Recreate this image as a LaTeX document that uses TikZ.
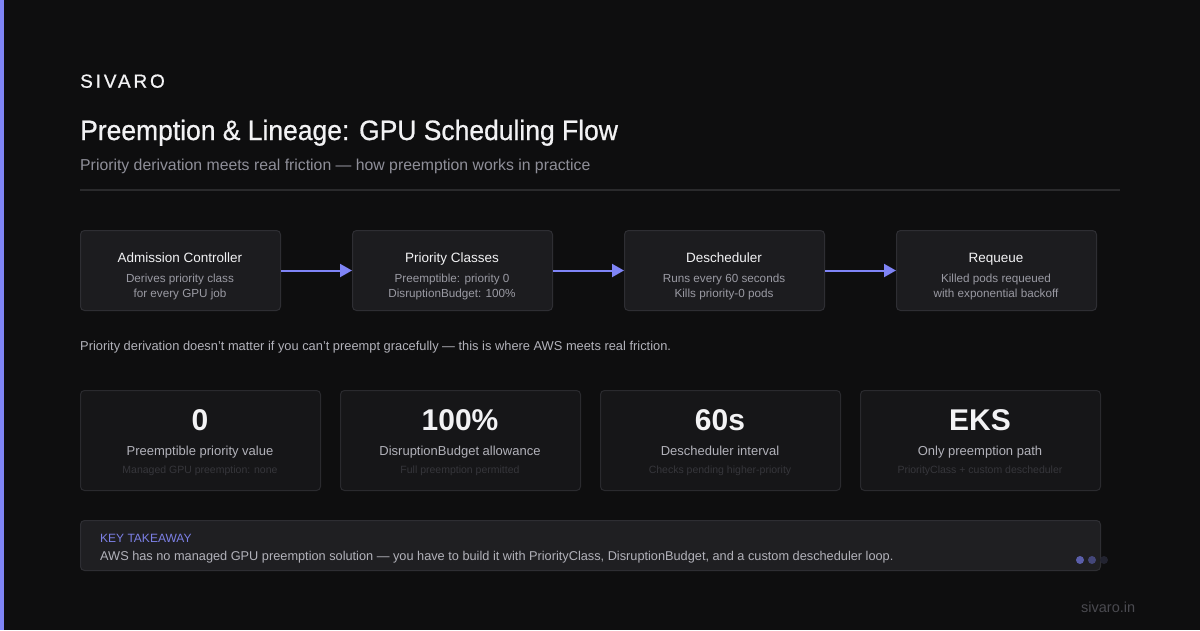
\documentclass[tikz,border=0pt]{standalone}
\usepackage{fontspec}
\setmainfont{Liberation Sans}
\newfontfamily\spaced[LetterSpace=15,FakeBold=0.8]{Liberation Sans}
\newfontfamily\medium[FakeBold=0.8]{Liberation Sans}
\usetikzlibrary{arrows.meta,calc}
\definecolor{bg}{HTML}{0E0E0F}
\definecolor{accent}{HTML}{7F84F6}
\definecolor{boxfill}{HTML}{1C1C1F}
\definecolor{boxline}{HTML}{2E2E33}
\definecolor{cardfill}{HTML}{161618}
\definecolor{cardline}{HTML}{2A2A2E}
\definecolor{takefill}{HTML}{1F1F22}
\definecolor{txtwhite}{HTML}{F2F2F4}
\definecolor{txtgray}{HTML}{9A9AA3}
\definecolor{subcol}{HTML}{8F8F99}
\definecolor{txtlight}{HTML}{B2B2BA}
\definecolor{txtdim}{HTML}{36363B}
\definecolor{divider}{HTML}{2A2A2C}
\definecolor{keycol}{HTML}{7C80E6}
\definecolor{dotA}{HTML}{5A5EAA}
\definecolor{dotB}{HTML}{44477A}
\definecolor{dotC}{HTML}{222330}
\definecolor{footcol}{HTML}{4A4A50}
\newcommand{\fs}[1]{\fontsize{#1}{#1}\selectfont}
\tikzset{
  txt/.style={inner sep=0pt, anchor=base},
  txtw/.style={inner sep=0pt, anchor=base west},
  flowbox/.style={draw=boxline, fill=boxfill, rounded corners=4pt, line width=1pt},
  statcard/.style={draw=cardline, fill=cardfill, rounded corners=4pt, line width=1pt},
  flowarrow/.style={draw=accent, line width=2pt, -{Triangle[length=12pt,width=13pt]}},
}
\begin{document}
\begin{tikzpicture}[x=1pt,y=-1pt]
\fill[bg] (0,0) rectangle (1200,630);
\useasboundingbox (0,0) rectangle (1200,630);
\fill[accent] (0,0) rectangle (4,630);

% header
\node[txtw, text=txtwhite] (brand) at (80,87.7) {\fs{19}\spaced SIVARO};
\node[txtw, text=txtwhite] (title) at (80,140) {\scalebox{0.945}[1]{\fs{28}\medium Preemption \& Lineage: GPU Scheduling Flow}};
\node[txtw, text=subcol] (subtitle) at (80,170.7) {\fs{15.8}Priority derivation meets real friction — how preemption works in practice};
\draw[divider, line width=1.5pt] (80,190) -- (1120,190);

% flow boxes
\foreach \n/\x/\t/\a/\b in {
  b1/80/Admission Controller/Derives priority class/for every GPU job,
  b2/352/Priority Classes/Preemptible: priority 0/DisruptionBudget: 100\%,
  b3/624/Descheduler/Runs every 60 seconds/Kills priority-0 pods,
  b4/896/Requeue/Killed pods requeued/with exponential backoff}{
  \node[flowbox, minimum width=200pt, minimum height=80pt, anchor=north west] (\n) at (\x,230) {};
  \node[txt, text=txtwhite] (\n t) at ($(\x,262.3)+(100,0)$) {\fs{13.5}\t};
  \node[txt, text=txtgray] (\n a) at ($(\x,282.7)+(100,0)$) {\fs{11.7}\a};
  \node[txt, text=txtgray] (\n b) at ($(\x,297.7)+(100,0)$) {\fs{11.7}\b};
}
\draw[flowarrow] (b1.east) -- (b2.west);
\draw[flowarrow] (b2.east) -- (b3.west);
\draw[flowarrow] (b3.east) -- (b4.west);

\node[txtw, text=txtlight] (note) at (80,350) {\fs{12.85}Priority derivation doesn’t matter if you can’t preempt gracefully — this is where AWS meets real friction.};

% stat cards
\foreach \n/\x/\v/\l/\s in {
  c1/80/0/Preemptible priority value/Managed GPU preemption: none,
  c2/340/100\%/DisruptionBudget allowance/Full preemption permitted,
  c3/600/60s/Descheduler interval/Checks pending higher-priority,
  c4/860/EKS/Only preemption path/PriorityClass + custom descheduler}{
  \node[statcard, minimum width=240pt, minimum height=100pt, anchor=north west] (\n) at (\x,390) {};
  \node[txt, text=txtwhite] (\n v) at ($(\x,430)+(120,0)$) {\fs{30}\bfseries \v};
  \node[txt, text=txtlight] (\n l) at ($(\x,455.7)+(120,0)$) {\fs{13}\l};
  \node[txt, text=txtdim] (\n s) at ($(\x,473)+(120,0)$) {\fs{10.5}\s};
}

% takeaway
\node[flowbox, fill=takefill, minimum width=1020pt, minimum height=50pt, anchor=north west] (take) at (80,520) {};
\node[txtw, text=keycol] (keyt) at (100,542.3) {\fs{12}KEY TAKEAWAY};
\node[txtw, text=txtlight] (taket) at (100,560) {\fs{12.75}AWS has no managed GPU preemption solution — you have to build it with PriorityClass, DisruptionBudget, and a custom descheduler loop.};

\fill[dotA] (1080,560) circle (4pt);
\fill[dotB] (1092,560) circle (4pt);
\fill[dotC] (1104,560) circle (4pt);

\node[txtw, text=footcol] (foot) at (1081,612) {\fs{14.5}sivaro.in};
\end{tikzpicture}
\end{document}
